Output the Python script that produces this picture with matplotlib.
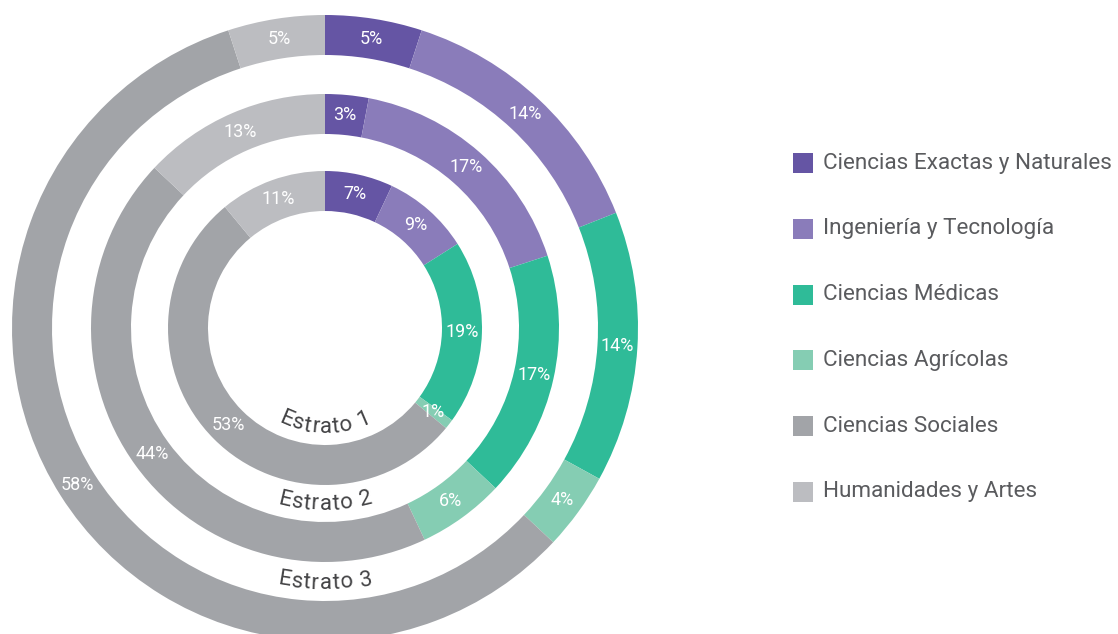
import numpy as np
import matplotlib
matplotlib.use('Agg')
import matplotlib.pyplot as plt
from matplotlib.patches import Rectangle
from matplotlib.font_manager import FontProperties
from matplotlib.textpath import text_to_path

# data
categories = ['Ciencias Exactas y Naturales', 'Ingeniería y Tecnología', 'Ciencias Médicas',
              'Ciencias Agrícolas', 'Ciencias Sociales', 'Humanidades y Artes']
estrato_1 = [7, 9, 19, 1, 53, 11]
estrato_2 = [3, 17, 17, 6, 44, 13]
estrato_3 = [5, 14, 14, 4, 58, 5]
ring_names = ['Estrato 1', 'Estrato 2', 'Estrato 3']

colors = ['#6555A4', '#8A7CBA', '#2FBB98', '#85CDB3', '#A2A4A8', '#BCBDC1']

FONT = 'Roboto'
W, H = 1118, 634
cx, cy = 325, H - 328
ring_width = 40
radii = [157, 234, 313]

fig = plt.figure(figsize=(W / 100, H / 100), dpi=100)
ax = fig.add_axes([0, 0, 1, 1])

for values, r, name in zip([estrato_1, estrato_2, estrato_3], radii, ring_names):
    wedges, _ = ax.pie(values, radius=r, center=(cx, cy), startangle=90, counterclock=False,
                       colors=colors, wedgeprops=dict(width=ring_width, linewidth=0))
    # percentage labels in the middle of each segment
    rm = r - ring_width / 2
    for w, v in zip(wedges, values):
        ang = np.deg2rad((w.theta1 + w.theta2) / 2)
        ax.text(cx + rm * np.cos(ang), cy + rm * np.sin(ang), f'{v}%',
                color='white', fontsize=13, family=FONT,
                ha='center', va='center')

    # curved ring name just inside the ring
    fp = FontProperties(family=FONT, size=16)
    r_txt = r - ring_width - 20
    cap = fp.get_size_in_points() * 100 / 72 * 0.71
    r_base = r_txt + cap / 2
    spread = 1.1
    total = text_to_path.get_text_width_height_descent(name, fp, ismath=False)[0] * 100 / 72
    total *= spread
    for i, ch in enumerate(name):
        w0 = text_to_path.get_text_width_height_descent(name[:i], fp, ismath=False)[0] if i else 0
        w1 = text_to_path.get_text_width_height_descent(name[:i + 1], fp, ismath=False)[0]
        s = (w0 + w1) / 2 * 100 / 72 * spread
        phi = -np.pi / 2 + (s - total / 2) / r_base
        ax.text(cx + r_base * np.cos(phi), cy + r_base * np.sin(phi), ch,
                fontproperties=fp, color='#444446', rotation=np.rad2deg(phi) + 90,
                rotation_mode='anchor', ha='center', va='baseline')

# legend
leg_x, leg_y0, leg_step, box = 793, H - 163, 65.8, 20
for i, (cat, col) in enumerate(zip(categories, colors)):
    yc = leg_y0 - i * leg_step
    ax.add_patch(Rectangle((leg_x, yc - box / 2), box, box, color=col, linewidth=0))
    ax.text(leg_x + 30, yc, cat, fontsize=16.2, family=FONT, color='#5A5B5E',
            ha='left', va='center')

ax.set_xlim(0, W)
ax.set_ylim(0, H)
ax.set_aspect('equal')
ax.axis('off')

plt.savefig('out.png', dpi=100)
plt.close()
